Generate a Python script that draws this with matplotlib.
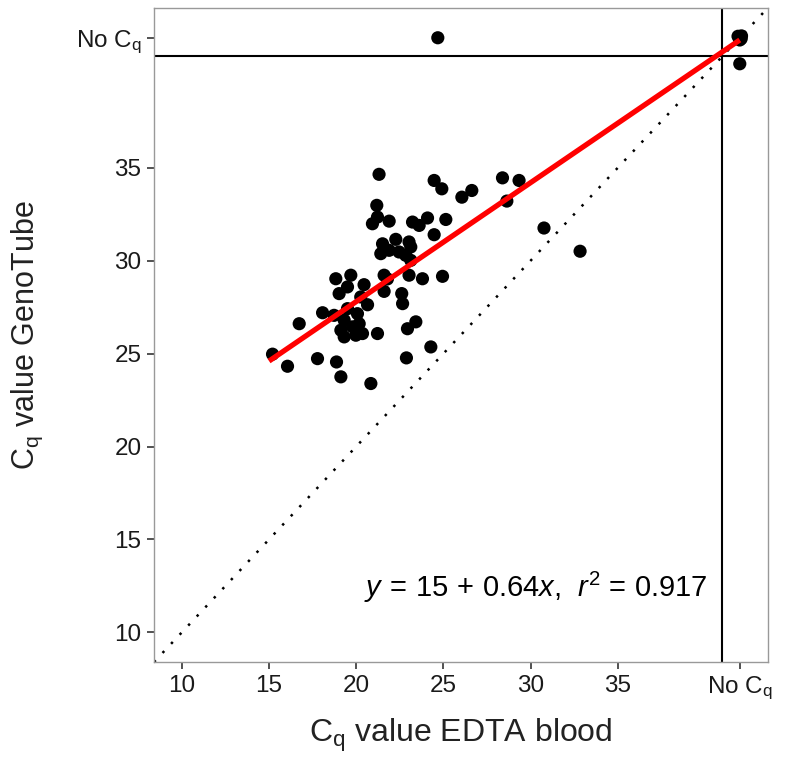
import matplotlib
matplotlib.use("Agg")
import matplotlib.pyplot as plt
import numpy as np

plt.rcParams['font.family'] = ['Liberation Sans', 'DejaVu Sans']
plt.rcParams['mathtext.fontset'] = 'custom'
plt.rcParams['mathtext.rm'] = 'Liberation Sans'
plt.rcParams['mathtext.it'] = 'Liberation Sans:italic'
plt.rcParams['mathtext.bf'] = 'Liberation Sans:bold'

# Data: Cq values (EDTA blood vs GenoTube); 42 = "No Cq"
edta = [21.31, 21.18, 21.22, 20.93, 21.89, 23.23, 23.61, 24.09, 25.14, 24.47,
        24.91, 26.06, 26.63, 28.39, 29.34, 28.64, 30.77, 32.84, 24.47, 22.27,
        21.51, 21.41, 21.89, 22.46, 23.03, 23.13, 22.84, 23.13, 18.83, 19.69,
        19.50, 19.02, 20.45, 21.60, 21.79, 23.03, 23.80, 24.95, 21.60, 22.61,
        22.66, 20.26, 20.65, 18.07, 19.50, 18.73, 20.07, 19.31, 20.17, 19.12,
        19.31, 19.98, 20.36, 19.79, 21.22, 23.42, 22.94, 16.73, 15.20, 16.06,
        17.78, 18.87, 19.12, 20.84, 22.88, 24.28, 24.68,
        41.9, 42.1, 42.0, 42.08, 42.0, 42.0]
genotube = [34.65, 32.98, 32.35, 31.99, 32.13, 32.08, 31.90, 32.30, 32.22, 34.32,
            33.87, 33.42, 33.78, 34.46, 34.32, 33.21, 31.76, 30.51, 31.40, 31.15,
            30.91, 30.38, 30.56, 30.47, 31.01, 30.74, 30.29, 30.02, 29.03, 29.22,
            28.59, 28.23, 28.71, 29.22, 29.02, 29.22, 29.03, 29.16, 28.35, 28.23,
            27.69, 28.05, 27.63, 27.20, 27.42, 27.06, 27.15, 26.80, 26.61, 26.26,
            25.90, 25.99, 26.08, 26.44, 26.08, 26.71, 26.34, 26.61, 24.97, 24.32,
            24.73, 24.55, 23.75, 23.39, 24.77, 25.36, 42.0,
            42.08, 42.1, 41.88, 41.95, 42.0, 40.6]

x_ticks = [10, 15, 20, 25, 30, 35, 42]
x_ticklabels = ['10', '15', '20', '25', '30', '35', 'No C$_\\mathregular{q}$']
y_ticks = [10, 15, 20, 25, 30, 35, 42]
y_ticklabels = ['10', '15', '20', '25', '30', '35', 'No C$_\\mathregular{q}$']
intercept, slope = 15, 0.64
fit_range = [15, 42]
cutoff = 41

fig = plt.figure(figsize=(7.88, 7.58), dpi=100)
ax = fig.add_axes([0.1954, 0.1266, 0.7788, 0.8628])
ax.set_xlim(8.4, 43.6)
ax.set_ylim(8.4, 43.6)

# identity line
ident = np.array([8.4, 43.6])
ax.plot(ident, ident, color='black', linestyle=(0, (1, 4.0)), linewidth=1.8, zorder=1)

# cutoff lines
ax.axvline(cutoff, color='black', linewidth=1.5, zorder=2)
ax.axhline(cutoff, color='black', linewidth=1.5, zorder=2)

# points
ax.scatter(edta, genotube, s=90, color='black', edgecolors='none', zorder=3)

# regression line
fx = np.array(fit_range)
ax.plot(fx, intercept + slope * fx, color='#ff0000', linewidth=3.8, zorder=4,
        solid_capstyle='butt')

ax.text(30.3, 12.4, '$y\\,=\\,15\\,+\\,0.64x$,  $r^2$ = 0.917', fontsize=21,
        ha='center', va='center', color='black')

ax.set_xticks(x_ticks)
ax.set_xticklabels(x_ticklabels)
ax.set_yticks(y_ticks)
ax.set_yticklabels(y_ticklabels)
ax.tick_params(axis='both', labelsize=17.5, length=5, width=1.2, color='#333333',
               labelcolor='#1a1a1a', pad=4)
for sp in ax.spines.values():
    sp.set_color('#999999')
    sp.set_linewidth(1.0)

ax.set_xlabel('C$_\\mathregular{q}$ value EDTA blood', fontsize=23, labelpad=11, color='#222222')
ax.set_ylabel('C$_\\mathregular{q}$ value GenoTube', fontsize=22, labelpad=22, color='#222222')

fig.savefig('out.png', dpi=100)
